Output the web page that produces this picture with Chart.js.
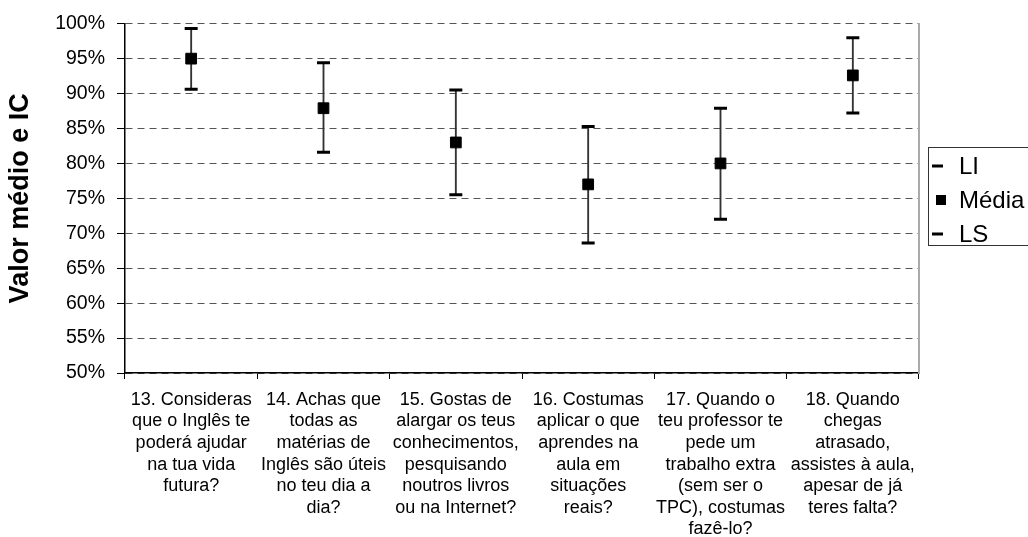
<!DOCTYPE html>
<html>
<head>
<meta charset="utf-8">
<script src="https://cdn.jsdelivr.net/npm/chart.js@4.4.1/dist/chart.umd.min.js"></script>
<style>
  html, body { margin: 0; padding: 0; background: #fff; }
  #wrap { width: 1028px; height: 537px; position: relative; }
</style>
</head>
<body>
<div id="wrap"><canvas id="myChart"></canvas></div>
<script>
// questions (x categories)
let perguntas = [
    ['13. Consideras', 'que o Inglês te', 'poderá ajudar', 'na tua vida', 'futura?'],
    ['14. Achas que', 'todas as', 'matérias de', 'Inglês são úteis', 'no teu dia a', 'dia?'],
    ['15. Gostas de', 'alargar os teus', 'conhecimentos,', 'pesquisando', 'noutros livros', 'ou na Internet?'],
    ['16. Costumas', 'aplicar o que', 'aprendes na', 'aula em', 'situações', 'reais?'],
    ['17. Quando o', 'teu professor te', 'pede um', 'trabalho extra', '(sem ser o', 'TPC), costumas', 'fazê-lo?'],
    ['18. Quando', 'chegas', 'atrasado,', 'assistes à aula,', 'apesar de já', 'teres falta?']
];

// values in %
let li_data    = [90.6, 81.6, 75.5, 68.6, 72.0, 87.2];
let media_data = [95.0, 87.9, 83.0, 77.0, 80.0, 92.6];
let ls_data    = [99.3, 94.4, 90.5, 85.3, 87.9, 98.0];

let yMin = 50;
let yMax = 100;
let yStep = 5;

let fontName = '"Liberation Sans", Arial, sans-serif';

let ic_data = [];
for (let i in li_data) {
    ic_data.push([li_data[i], ls_data[i]]);
}

// legend drawn by hand, box on the right like the original
const legendBox = {
    id: 'legendBox',
    afterDraw(chart) {
        let ctx = chart.ctx;
        let items = chart.data.datasets.filter(d => d.type === 'line');
        let x0 = 928, y0 = 147, h = 98;
        ctx.save();
        ctx.strokeStyle = '#333';
        ctx.lineWidth = 1;
        ctx.strokeRect(x0 + 0.5, y0 + 0.5, 120, h);
        ctx.font = '24px ' + fontName;
        ctx.fillStyle = '#000';
        ctx.textBaseline = 'middle';
        for (let i = 0; i < items.length; i++) {
            let cy = 166 + i * 34;
            if (items[i].pointStyle === 'rect') {
                ctx.fillRect(936, cy - 5, 10, 10);
            } else {
                ctx.fillRect(932, cy - 1.5, 11, 3);
            }
            ctx.fillText(items[i].label, 959, cy + 1);
        }
        ctx.restore();
    }
};

let graphTarget = document.getElementById('myChart');
let chart = new Chart(graphTarget, {
    data: {
        labels: perguntas,
        datasets: [{
            type: 'bar',
            label: 'IC',
            data: ic_data,
            backgroundColor: '#333',
            borderWidth: 0,
            barThickness: 1.2,
            order: 10
        }, {
            type: 'line',
            label: 'LI',
            data: li_data,
            showLine: false,
            pointStyle: 'line',
            pointRadius: 6.5,
            pointBorderWidth: 3,
            pointBorderColor: '#000',
            order: 1
        }, {
            type: 'line',
            label: 'Média',
            data: media_data,
            showLine: false,
            pointStyle: 'rect',
            pointRadius: 7.6,
            pointBorderWidth: 1,
            pointBackgroundColor: '#000',
            pointBorderColor: '#000',
            order: 0
        }, {
            type: 'line',
            label: 'LS',
            data: ls_data,
            showLine: false,
            pointStyle: 'line',
            pointRadius: 6.5,
            pointBorderWidth: 3,
            pointBorderColor: '#000',
            order: 1
        }]
    },
    options: {
        responsive: true,
        maintainAspectRatio: false,
        animation: false,
        layout: {
            padding: { left: 4, right: 109, top: 14, bottom: 0 }
        },
        plugins: {
            legend: { display: false },
            tooltip: { enabled: false }
        },
        scales: {
            x: {
                offset: true,
                grid: {
                    offset: true,
                    drawOnChartArea: false,
                    drawTicks: true,
                    tickLength: 6,
                    color: '#000'
                },
                border: { color: '#000', width: 1.5 },
                ticks: {
                    color: '#000',
                    maxRotation: 0,
                    autoSkip: false,
                    padding: 10,
                    font: { family: fontName, size: 18, lineHeight: 1.2 }
                },
                afterFit: function(scale) {
                    scale.height = 164;
                }
            },
            y: {
                min: yMin,
                max: yMax,
                ticks: {
                    stepSize: yStep,
                    color: '#000',
                    padding: 12,
                    font: { family: fontName, size: 19.5 },
                    callback: function(value, index, ticks) {
                        return value + '%';
                    }
                },
                grid: {
                    color: '#555',
                    lineWidth: 1,
                    tickColor: '#000',
                    tickLength: 8,
                    tickBorderDash: []
                },
                border: { color: '#000', width: 1.5, dash: [7, 5] },
                title: {
                    display: true,
                    text: 'Valor médio e IC',
                    color: '#000',
                    font: { family: fontName, size: 27, weight: 'bold' },
                    padding: { top: 0, bottom: 4 }
                },
                afterFit: function(scale) {
                    scale.width = 121;
                }
            },
            y2: {
                position: 'right',
                min: yMin,
                max: yMax,
                ticks: { display: false },
                grid: { display: false, drawTicks: false },
                border: { color: '#aaa', width: 2 },
                afterFit: function(scale) {
                    scale.width = 0;
                }
            }
        }
    },
    plugins: [legendBox]
});
</script>
</body>
</html>
